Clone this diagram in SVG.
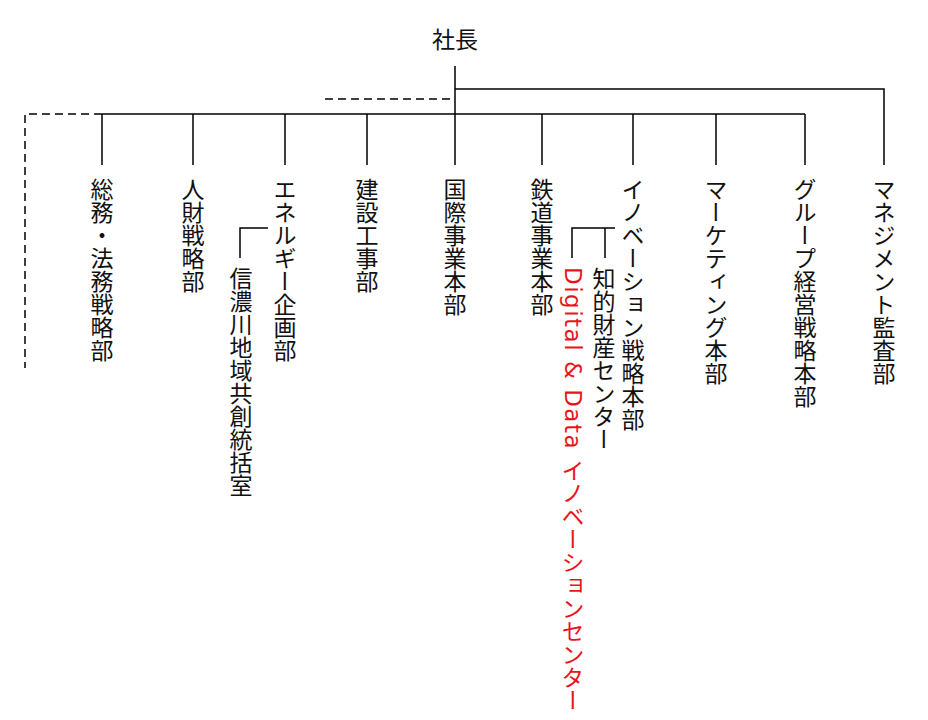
<svg xmlns="http://www.w3.org/2000/svg" width="928" height="720" viewBox="0 0 928 720">
<style>
.ln{stroke:#000;stroke-width:1.5;fill:none}
.ds{stroke:#000;stroke-width:1.5;fill:none;stroke-dasharray:8 5}
.t{font-family:"Noto Sans CJK JP","Noto Sans",sans-serif;font-size:23px;fill:#111}
.v{writing-mode:vertical-rl}
.red{fill:#e8141b}
.lat{font-family:"DejaVu Sans","Noto Sans",sans-serif;font-size:23px;letter-spacing:1.5px}
</style>
<rect width="928" height="720" fill="#fff"/>
<g id="connectors">
<path class="ln" d="M455 66V165M455 89H884V165M102 114H805M102 114V165M193 114V165M285 114V165M367 114V165M542 114V165M633 114V165M716 114V165M805 114V165"/>
<path class="ds" d="M325 99H455M102 114H25V368"/>
<path class="ln" d="M240 258V228H268"/>
<path class="ln" d="M572 258V228H615M605 228V258"/>
</g>
<g id="president"><text class="t" x="455" y="48" text-anchor="middle" font-size="22">社長</text></g>
<g id="n1"><text class="t v" x="102" y="178">総務・法務戦略部</text></g>
<g id="n2"><text class="t v" x="193" y="178">人財戦略部</text></g>
<g id="n3"><text class="t v" x="285" y="178">エネルギー企画部</text></g>
<g id="n3a"><text class="t v" x="241" y="267">信濃川地域共創統括室</text></g>
<g id="n4"><text class="t v" x="367" y="178">建設工事部</text></g>
<g id="n5"><text class="t v" x="455" y="178">国際事業本部</text></g>
<g id="n6"><text class="t v" x="542" y="178">鉄道事業本部</text></g>
<g id="n7"><text class="t v" x="633" y="178">イノベーション戦略本部</text></g>
<g id="n7a"><text class="t v" x="604" y="267">知的財産センター</text></g>
<g id="n7b"><text class="t v red" x="573" y="267"><tspan class="lat">Digital &amp; Data </tspan>イノベーションセンター</text></g>
<g id="n8"><text class="t v" x="716" y="178">マーケティング本部</text></g>
<g id="n9"><text class="t v" x="805" y="178">グループ経営戦略本部</text></g>
<g id="n10"><text class="t v" x="884" y="178">マネジメント監査部</text></g>
</svg>
